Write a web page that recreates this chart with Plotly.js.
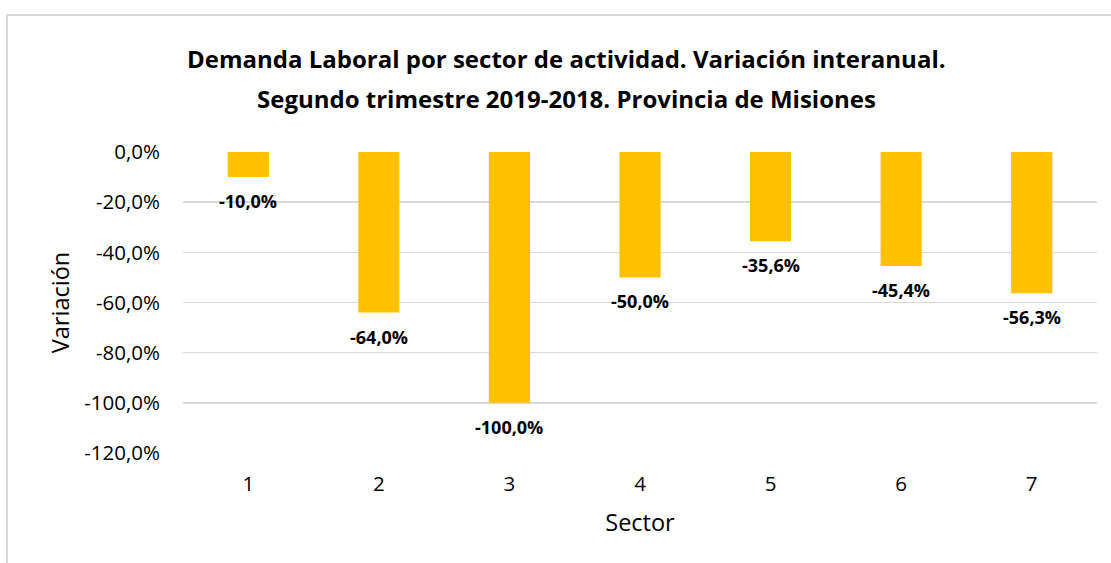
<!DOCTYPE html>
<html><head><meta charset="utf-8">
<script src="https://cdn.plot.ly/plotly-3.0.1.min.js"></script>
<style>
html,body{margin:0;padding:0;background:#fff;}
#wrap{position:relative;width:1111px;height:563px;overflow:hidden;}
#chart{width:1111px;height:563px;}
#frame{position:absolute;left:6px;top:14px;width:1200px;height:700px;border:2px solid #d9d9d9;pointer-events:none;box-sizing:border-box;}
</style></head>
<body><div id="wrap"><div id="chart"></div><div id="frame"></div></div>
<script>
const sectors = ['1','2','3','4','5','6','7'];
const variation = [-10.0, -64.0, -100.0, -50.0, -35.6, -45.4, -56.3];
const labels = ['-10,0%','-64,0%','-100,0%','-50,0%','-35,6%','-45,4%','-56,3%'];
const yTickVals = [0, -20, -40, -60, -80, -100, -120];
const yTickText = ['0,0%','-20,0%','-40,0%','-60,0%','-80,0%','-100,0%','-120,0%'];
const titleLines = ['Demanda Laboral por sector de actividad. Variación interanual.',
                    'Segundo trimestre 2019-2018. Provincia de Misiones'];

const FONT = "'Open Sans', sans-serif";
const trace = {
  type:'bar', x:sectors, y:variation,
  marker:{color:'#ffc000'}, hoverinfo:'none'
};
const ann = variation.map((v,i)=>({
  x:i, y:v, xref:'x', yref:'y', text:'<b>'+labels[i]+'</b>', showarrow:false,
  yanchor:'top', yshift:-10,
  font:{family:FONT, size:18, color:'#000'}
}));
const titleX = 0.42;
ann.push({xref:'paper', yref:'paper', x:titleX, y:1, yanchor:'middle', yshift:94, showarrow:false,
  text:'<b>'+titleLines[0]+'</b>', font:{family:FONT, size:24, color:'#000'}});
ann.push({xref:'paper', yref:'paper', x:titleX, y:1, yanchor:'middle', yshift:54, showarrow:false,
  text:'<b>'+titleLines[1]+'</b>', font:{family:FONT, size:24, color:'#000'}});

const layout = {
  width:1111, height:563,
  margin:{l:183, r:14, t:152, b:110},
  paper_bgcolor:'#fff', plot_bgcolor:'#fff',
  bargap:0.685,
  showlegend:false,
  font:{family:FONT, size:20, color:'#000'},
  xaxis:{type:'category', range:[-0.5,6.5], showgrid:false, zeroline:false, showline:false, ticks:'',
    ticklabelstandoff:16, tickfont:{size:20.5},
    title:{text:'Sector', standoff:19, font:{size:23.5}}},
  yaxis:{range:[-120,0], tickvals:yTickVals, ticktext:yTickText,
    showgrid:true, gridcolor:'#d9d9d9', gridwidth:1.5, zeroline:false, showline:false, ticks:'',
    ticklabelstandoff:22, tickfont:{size:20.5},
    title:{text:'Variación', standoff:8, font:{size:23.5}}},
  annotations:ann
};
Plotly.newPlot('chart',[trace],layout,{displayModeBar:false,staticPlot:true});
</script></body></html>
